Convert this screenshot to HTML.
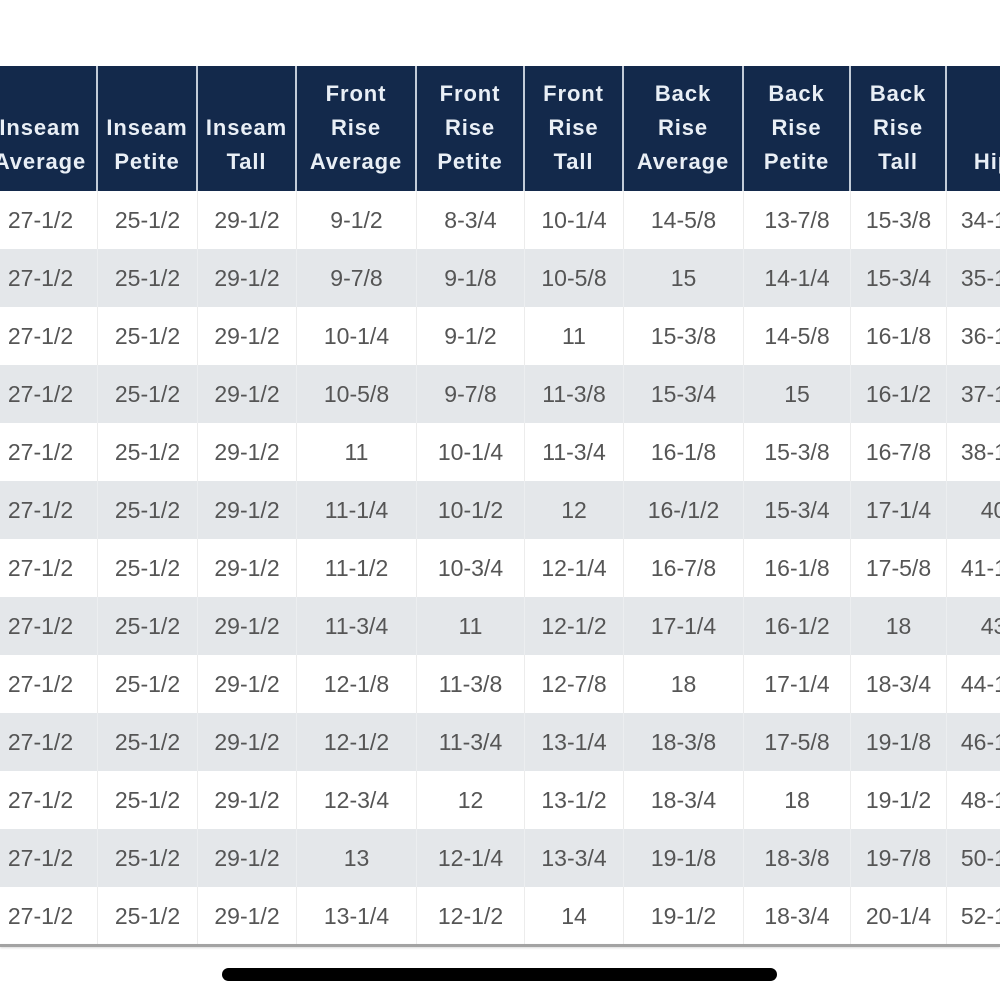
<!DOCTYPE html>
<html>
<head>
<meta charset="utf-8">
<style>
html,body{margin:0;padding:0;background:#fff;}
body{width:1000px;height:1000px;overflow:hidden;position:relative;font-family:"Liberation Sans",sans-serif;}
#tbl{position:absolute;left:-16px;top:66px;width:1057px;}
.row{display:flex;}
.row>div{flex:none;box-sizing:border-box;text-align:center;}
.row>div:nth-child(1){width:114px}
.row>div:nth-child(2){width:100px}
.row>div:nth-child(3){width:99px}
.row>div:nth-child(4){width:120px}
.row>div:nth-child(5){width:108px}
.row>div:nth-child(6){width:99px}
.row>div:nth-child(7){width:120px}
.row>div:nth-child(8){width:107px}
.row>div:nth-child(9){width:96px}
.row>div:nth-child(10){width:94px}
.hdr{height:125px;background:#c2ccd8;}
.hdr>div{background:#13294b;color:#e9eff6;font-weight:bold;font-size:22px;letter-spacing:0.9px;line-height:34px;height:125px;display:flex;flex-direction:column;justify-content:flex-end;padding-bottom:12px;border-right:2px solid #c2ccd8;white-space:nowrap;}
.d{height:58px;}
.d>div{line-height:58px;font-size:23px;color:#555;border-right:1px solid #ececec;}
.g{background:#e4e7ea;}
.g>div{border-right:1px solid #eceef0;}
#bline{position:absolute;left:0;top:944px;width:1000px;height:3px;background:#a3a3a3;box-shadow:0 1px 2px rgba(0,0,0,0.15);}
#bar{position:absolute;left:222px;top:968px;width:555px;height:13px;border-radius:7px;background:#000;}
</style>
</head>
<body>
<div id="tbl">
  <div class="row hdr">
    <div><span>Inseam</span><span>Average</span></div>
    <div><span>Inseam</span><span>Petite</span></div>
    <div><span>Inseam</span><span>Tall</span></div>
    <div><span>Front</span><span>Rise</span><span>Average</span></div>
    <div><span>Front</span><span>Rise</span><span>Petite</span></div>
    <div><span>Front</span><span>Rise</span><span>Tall</span></div>
    <div><span>Back</span><span>Rise</span><span>Average</span></div>
    <div><span>Back</span><span>Rise</span><span>Petite</span></div>
    <div><span>Back</span><span>Rise</span><span>Tall</span></div>
    <div><span>Hip</span></div>
  </div>
  <div class="row d"><div>27-1/2</div><div>25-1/2</div><div>29-1/2</div><div>9-1/2</div><div>8-3/4</div><div>10-1/4</div><div>14-5/8</div><div>13-7/8</div><div>15-3/8</div><div>34-1/2</div></div>
  <div class="row d g"><div>27-1/2</div><div>25-1/2</div><div>29-1/2</div><div>9-7/8</div><div>9-1/8</div><div>10-5/8</div><div>15</div><div>14-1/4</div><div>15-3/4</div><div>35-1/2</div></div>
  <div class="row d"><div>27-1/2</div><div>25-1/2</div><div>29-1/2</div><div>10-1/4</div><div>9-1/2</div><div>11</div><div>15-3/8</div><div>14-5/8</div><div>16-1/8</div><div>36-1/2</div></div>
  <div class="row d g"><div>27-1/2</div><div>25-1/2</div><div>29-1/2</div><div>10-5/8</div><div>9-7/8</div><div>11-3/8</div><div>15-3/4</div><div>15</div><div>16-1/2</div><div>37-1/2</div></div>
  <div class="row d"><div>27-1/2</div><div>25-1/2</div><div>29-1/2</div><div>11</div><div>10-1/4</div><div>11-3/4</div><div>16-1/8</div><div>15-3/8</div><div>16-7/8</div><div>38-1/2</div></div>
  <div class="row d g"><div>27-1/2</div><div>25-1/2</div><div>29-1/2</div><div>11-1/4</div><div>10-1/2</div><div>12</div><div>16-/1/2</div><div>15-3/4</div><div>17-1/4</div><div>40</div></div>
  <div class="row d"><div>27-1/2</div><div>25-1/2</div><div>29-1/2</div><div>11-1/2</div><div>10-3/4</div><div>12-1/4</div><div>16-7/8</div><div>16-1/8</div><div>17-5/8</div><div>41-1/2</div></div>
  <div class="row d g"><div>27-1/2</div><div>25-1/2</div><div>29-1/2</div><div>11-3/4</div><div>11</div><div>12-1/2</div><div>17-1/4</div><div>16-1/2</div><div>18</div><div>43</div></div>
  <div class="row d"><div>27-1/2</div><div>25-1/2</div><div>29-1/2</div><div>12-1/8</div><div>11-3/8</div><div>12-7/8</div><div>18</div><div>17-1/4</div><div>18-3/4</div><div>44-1/2</div></div>
  <div class="row d g"><div>27-1/2</div><div>25-1/2</div><div>29-1/2</div><div>12-1/2</div><div>11-3/4</div><div>13-1/4</div><div>18-3/8</div><div>17-5/8</div><div>19-1/8</div><div>46-1/2</div></div>
  <div class="row d"><div>27-1/2</div><div>25-1/2</div><div>29-1/2</div><div>12-3/4</div><div>12</div><div>13-1/2</div><div>18-3/4</div><div>18</div><div>19-1/2</div><div>48-1/2</div></div>
  <div class="row d g"><div>27-1/2</div><div>25-1/2</div><div>29-1/2</div><div>13</div><div>12-1/4</div><div>13-3/4</div><div>19-1/8</div><div>18-3/8</div><div>19-7/8</div><div>50-1/2</div></div>
  <div class="row d"><div>27-1/2</div><div>25-1/2</div><div>29-1/2</div><div>13-1/4</div><div>12-1/2</div><div>14</div><div>19-1/2</div><div>18-3/4</div><div>20-1/4</div><div>52-1/2</div></div>
</div>
<div id="bline"></div>
<div id="bar"></div>
</body>
</html>
